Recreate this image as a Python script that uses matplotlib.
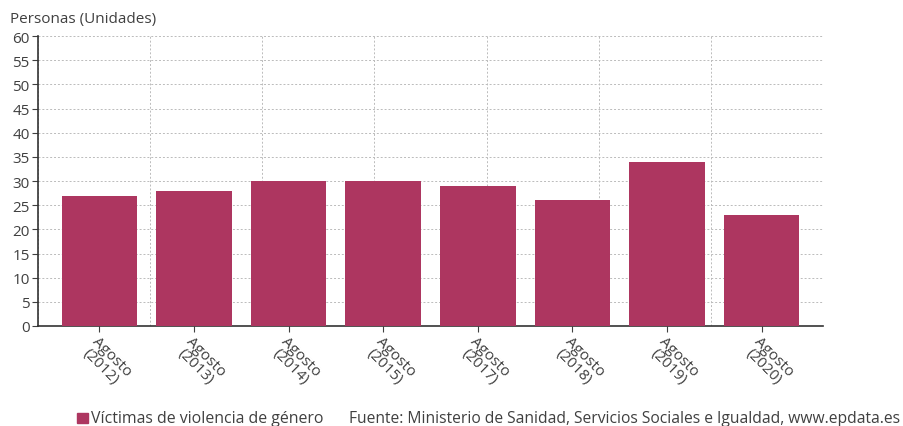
import matplotlib
matplotlib.use("Agg")
import matplotlib.pyplot as plt
import numpy as np

categories = ["Agosto\n(2012)", "Agosto\n(2013)", "Agosto\n(2014)", "Agosto\n(2015)",
              "Agosto\n(2017)", "Agosto\n(2018)", "Agosto\n(2019)", "Agosto\n(2020)"]
values = [27, 28, 30, 30, 29, 26, 34, 23]
yticks = list(range(0, 61, 5))
series_name = "Víctimas de violencia de género"
source = "Fuente: Ministerio de Sanidad, Servicios Sociales e Igualdad, www.epdata.es"
ylabel = "Personas (Unidades)"

plt.rcParams['font.family'] = ['Open Sans', 'DejaVu Sans']
color = "#AD3660"
textc = "#404040"

fig = plt.figure(figsize=(9.04, 4.27), dpi=100)
ax = fig.add_axes([0.0420, 0.2342, 0.8684, 0.6791])
x = np.arange(len(values))
ax.bar(x, values, width=0.8, color=color, zorder=3)
xlim = (-0.65, len(values) - 1 + 0.65)
ax.set_xlim(*xlim)
ax.set_ylim(0, 60)
ax.set_yticks(yticks)
ax.set_yticklabels([str(v) for v in yticks], fontsize=11, color=textc)
ax.set_xticks(x)
ax.set_xticklabels(categories, rotation=-45, ha='left', va='top', rotation_mode='anchor',
                   fontsize=11, color=textc, linespacing=1.0)
for lbl in ax.get_xticklabels():
    lbl.set_multialignment('center')
ax.set_xticks(np.linspace(xlim[0], xlim[1], 8), minor=True)
ax.tick_params(axis='x', which='minor', length=0)
ax.tick_params(axis='x', which='major', length=4, color=textc, pad=1)
ax.tick_params(axis='y', length=4, color=textc, pad=2)
ax.grid(axis='y', which='major', color='#bbbbbb', linestyle=(0, (2, 2)), linewidth=0.7, zorder=0)
ax.grid(axis='x', which='minor', color='#bbbbbb', linestyle=(0, (2, 2)), linewidth=0.7, zorder=0)
for s in ['top', 'right']:
    ax.spines[s].set_visible(False)
for s in ['left', 'bottom']:
    ax.spines[s].set_color('#333333')
    ax.spines[s].set_linestyle((0, (1, 1)))
    ax.spines[s].set_linewidth(1.2)

fig.text(10 / 904, 1 - 20 / 427, ylabel, fontsize=11, color=textc, va='center', ha='left')

fig.patches.append(plt.Rectangle((77 / 904, 1 - 424 / 427), 11 / 904, 10 / 427,
                                 transform=fig.transFigure, color=color, figure=fig))
fig.text(91 / 904, 1 - 419 / 427, series_name, fontsize=11.4, color=textc, va='center', ha='left')
fig.text(349 / 904, 1 - 419 / 427, source, fontsize=11.25, color=textc, va='center', ha='left')

fig.savefig("out.png", dpi=100)
